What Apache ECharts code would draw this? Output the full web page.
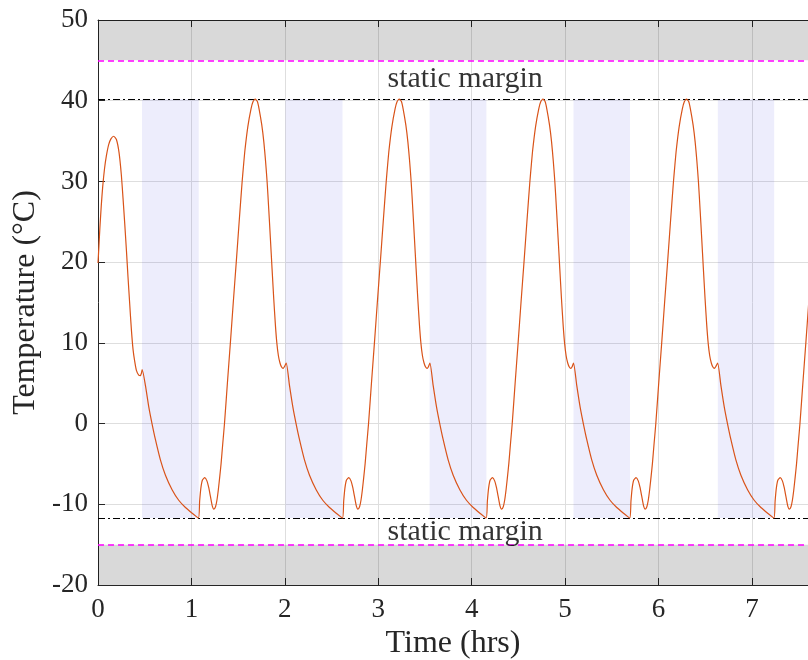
<!DOCTYPE html>
<html><head><meta charset="utf-8">
<script src="https://cdn.jsdelivr.net/npm/echarts@6/dist/echarts.min.js"></script>
<style>html,body{margin:0;padding:0;background:#fff}#c{width:808px;height:660px}</style>
</head><body><div id="c"></div><script>
// ---- data ----
const xTicks = [0, 1, 2, 3, 4, 5, 6, 7];
const yTicks = [-20, -10, 0, 10, 20, 30, 40, 50];
// first (warm-up) segment, up to the first kink
const initTimes = [0, 0.010, 0.020, 0.035, 0.050, 0.070, 0.090, 0.115, 0.140, 0.168, 0.197, 0.225, 0.250, 0.268, 0.286, 0.304, 0.321, 0.339, 0.357, 0.375, 0.393, 0.411, 0.436, 0.454, 0.466, 0.473];
const initTemps = [19.9, 22.0, 24.2, 27.0, 29.3, 31.6, 33.2, 34.6, 35.3, 35.6, 35.2, 33.6, 30.8, 27.9, 24.8, 21.5, 18.2, 14.9, 11.7, 9.2, 7.7, 6.6, 6.0, 5.95, 6.3, 6.7];
// times of the kink at the start of each repeated cycle
const kinkTimes = [0.473, 2.015, 3.553, 5.090, 6.633];
// shape of one repeated cycle: hours after its kink, and temperature
const cycleOffsets = [0.000, 0.035, 0.070, 0.105, 0.142, 0.195, 0.249, 0.320, 0.391, 0.463, 0.535, 0.602,
  0.615, 0.628, 0.645, 0.670, 0.693, 0.712, 0.730, 0.750, 0.767, 0.785, 0.800, 0.815, 0.830, 0.845, 0.863, 0.881,
  0.912, 0.944, 0.975, 1.007, 1.038, 1.070, 1.085, 1.100, 1.131, 1.165, 1.187, 1.210, 1.233, 1.251, 1.280, 1.302,
  1.320, 1.337, 1.355, 1.372, 1.390, 1.408, 1.426, 1.442, 1.458, 1.475, 1.492, 1.508, 1.522];
const cycleTemps = [7.5, 4.7, 2.1, 0.0, -2.0, -4.5, -6.4, -8.2, -9.5, -10.4, -11.1, -11.7,
  -9.6, -8.0, -7.0, -6.7, -7.1, -7.9, -9.0, -10.2, -10.6, -10.3, -9.5, -8.2, -6.6, -4.9, -2.4, 0.0,
  5.0, 10.0, 15.0, 20.0, 25.0, 30.0, 32.0, 33.9, 36.8, 39.0, 39.9, 40.2, 39.9, 39.0, 37.0, 34.9,
  32.6, 30.0, 26.5, 23.0, 19.2, 15.5, 12.2, 9.9, 8.4, 7.5, 7.0, 6.84, 7.04];
// shaded (blue) windows
const blueStarts = [0.471, 2.006, 3.550, 5.090, 6.635];
const blueEnds = [1.078, 2.617, 4.157, 5.695, 7.238];
// limits
const staticMarginHigh = 40.2;
const staticMarginLow = -11.7;
const limitHigh = 45;
const limitLow = -15;
const labelTexts = ['static margin', 'static margin'];
const labelX = [3.93, 3.93];
const labelY = [42.7, -13.45];

// ---- build series ----
const temperature = [];
initTimes.forEach((t, i) => temperature.push([t, initTemps[i]]));
kinkTimes.forEach((k, ci) => {
  cycleOffsets.forEach((d, i) => {
    if (ci === 0 && d === 0) return;
    temperature.push([+(k + d).toFixed(4), cycleTemps[i]]);
  });
});

const FONT = 'Liberation Serif';
const TXT = '#262626';
const chart = echarts.init(document.getElementById('c'), null, {renderer: 'canvas'});
const xFmt = v => (xTicks.indexOf(Math.round(v * 1000) / 1000) >= 0 ? String(v) : '');
chart.setOption({
  animation: false,
  backgroundColor: '#fff',
  grid: {left: 98, right: 0, top: 20, bottom: 75, containLabel: false, outerBoundsMode: 'none'},
  xAxis: [{
    type: 'value', min: 0, max: 7.6, interval: 1,
    name: 'Time (hrs)', nameLocation: 'middle', nameGap: 39,
    nameTextStyle: {fontFamily: FONT, fontSize: 32, color: TXT},
    axisLine: {show: true, onZero: false, lineStyle: {color: TXT, width: 1}},
    axisTick: {show: true, inside: true, length: 7, lineStyle: {color: TXT}},
    axisLabel: {fontFamily: FONT, fontSize: 27, color: TXT, margin: 11, formatter: xFmt, showMaxLabel: false},
    splitLine: {show: true, lineStyle: {color: '#dedede', width: 1}}
  }, {
    type: 'value', position: 'top', min: 0, max: 7.6, interval: 1,
    axisLine: {show: true, onZero: false, lineStyle: {color: TXT, width: 1}},
    axisTick: {show: true, inside: true, length: 7, lineStyle: {color: TXT}},
    axisLabel: {show: false}, splitLine: {show: false}
  }],
  yAxis: {
    type: 'value', min: -20, max: 50, interval: 10,
    name: 'Temperature (°C)', nameLocation: 'middle', nameGap: 40,
    nameTextStyle: {fontFamily: FONT, fontSize: 32, color: TXT},
    axisLine: {show: true, onZero: false, lineStyle: {color: TXT, width: 1}},
    axisTick: {show: true, inside: true, length: 7, lineStyle: {color: TXT}},
    axisLabel: {fontFamily: FONT, fontSize: 27, color: TXT, margin: 10},
    splitLine: {show: true, lineStyle: {color: '#dedede', width: 1}}
  },
  series: [
    {
      type: 'line', data: [], silent: true,
      markArea: {
        silent: true,
        itemStyle: {color: 'rgba(0,0,0,0.15)'},
        data: [
          [{yAxis: limitHigh}, {yAxis: 50}],
          [{yAxis: -20}, {yAxis: limitLow}]
        ]
      }
    },
    {
      type: 'line', data: [], silent: true,
      markArea: {
        silent: true,
        itemStyle: {color: 'rgba(26,26,222,0.08)'},
        data: blueStarts.map((s, i) => [{xAxis: s, yAxis: staticMarginLow}, {xAxis: blueEnds[i], yAxis: staticMarginHigh}])
      }
    },
    {
      type: 'line', data: [], silent: true,
      markLine: {
        silent: true, symbol: 'none', label: {show: false},
        data: [
          {yAxis: limitHigh, lineStyle: {color: '#ff00ff', type: [6, 4], width: 1.5}},
          {yAxis: limitLow, lineStyle: {color: '#ff00ff', type: [6, 4], width: 1.5}},
          {yAxis: staticMarginHigh, lineStyle: {color: '#000', type: [7, 3, 2, 3], width: 1}},
          {yAxis: staticMarginLow, lineStyle: {color: '#000', type: [7, 3, 2, 3], width: 1}}
        ]
      }
    },
    {
      type: 'line', data: temperature, showSymbol: false, smooth: 0.2,
      lineStyle: {color: '#d95319', width: 1.2}, itemStyle: {color: '#d95319'}, z: 5
    },
    {
      type: 'scatter', symbolSize: 0, silent: true, z: 6,
      data: labelX.map((x, i) => ({value: [x, labelY[i]], name: labelTexts[i]})),
      label: {show: true, position: 'inside', formatter: p => p.name, fontFamily: FONT, fontSize: 30, color: '#000'}
    }
  ]
});
</script></body></html>
